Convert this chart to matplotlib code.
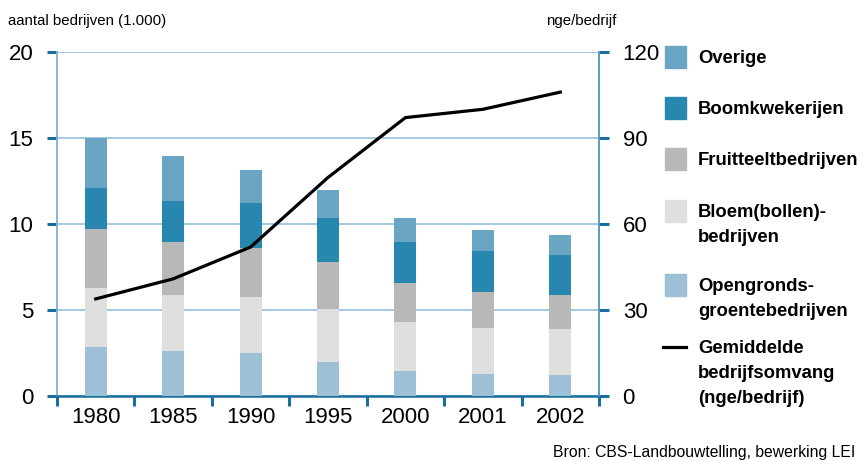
import numpy as np
import matplotlib
matplotlib.use("Agg")
import matplotlib.pyplot as plt
from matplotlib.patches import Rectangle
from matplotlib.lines import Line2D

plt.rcParams['font.family'] = ['Liberation Sans', 'DejaVu Sans']

# data (aantal bedrijven x 1.000)
years = ['1980', '1985', '1990', '1995', '2000', '2001', '2002']
opengronds = [2.87, 2.63, 2.52, 2.00, 1.47, 1.30, 1.24]
bloembollen = [3.43, 3.26, 3.25, 3.08, 2.85, 2.67, 2.67]
fruitteelt = [3.43, 3.08, 2.87, 2.73, 2.27, 2.09, 1.98]
boomkwekerij = [2.38, 2.38, 2.60, 2.56, 2.38, 2.39, 2.33]
overige = [2.89, 2.62, 1.92, 1.62, 1.40, 1.22, 1.16]
# gemiddelde bedrijfsomvang (nge/bedrijf)
omvang = [33.9, 40.9, 52.0, 76.3, 97.2, 100.1, 106.1]

series = [opengronds, bloembollen, fruitteelt, boomkwekerij, overige]
colors = ['#9ec0d6', '#dfdfdf', '#b8b8b8', '#2787ae', '#6aa6c4']
legend_items = [
    ('Overige', '#6aa6c4'),
    ('Boomkwekerijen', '#2787ae'),
    ('Fruitteeltbedrijven', '#b8b8b8'),
    ('Bloem(bollen)-\nbedrijven', '#dfdfdf'),
    ('Opengronds-\ngroentebedrijven', '#9ec0d6'),
]

dark = '#1a6e9c'
light = '#7ab3d3'
grid_c = '#93c0db'

W, H = 865, 461
fig = plt.figure(figsize=(W / 100, H / 100), dpi=100)
ax = fig.add_axes([57 / W, 1 - 396 / H, (599 - 57) / W, (396 - 52.3) / H])

x = np.arange(len(years))
bottom = np.zeros(len(years))
for vals, c in zip(series, colors):
    ax.bar(x, vals, bottom=bottom, width=0.285, color=c, zorder=3, linewidth=0)
    bottom += np.array(vals)

ax.set_xlim(-0.5, len(years) - 0.5)
ax.set_ylim(0, 20)
ax.set_yticks([0, 5, 10, 15, 20])
ax.yaxis.grid(True, color=grid_c, linewidth=1.2, zorder=0)
ax.set_axisbelow(True)

ax.set_xticks(x)
ax.set_xticklabels(years)
ax.set_xticks(np.arange(-0.5, len(years), 1.0), minor=True)
ax.tick_params(axis='x', which='major', length=0, pad=8, labelsize=16)
ax.tick_params(axis='x', which='minor', length=7, width=2.2, color=dark, direction='out')
ax.tick_params(axis='y', length=7, width=2.2, color=dark, pad=10, labelsize=16)

for side in ['top', 'right']:
    ax.spines[side].set_visible(False)
ax.spines['left'].set_color(light)
ax.spines['left'].set_linewidth(1.3)
ax.spines['bottom'].set_color(dark)
ax.spines['bottom'].set_linewidth(1.8)

ax2 = ax.twinx()
ax2.plot(x, omvang, color='black', linewidth=2.3, zorder=5)
ax2.set_ylim(0, 120)
ax2.set_yticks([0, 30, 60, 90, 120])
ax2.tick_params(axis='y', length=7, width=2.2, color=dark, pad=10, labelsize=16)
for side in ['top', 'left', 'bottom']:
    ax2.spines[side].set_visible(False)
ax2.spines['right'].set_color('#4a93bd')
ax2.spines['right'].set_linewidth(1.3)

fig.text(8 / W, 1 - 25 / H, 'aantal bedrijven (1.000)', fontsize=10.8, ha='left', va='baseline')
fig.text(616 / W, 1 - 25 / H, 'nge/bedrijf', fontsize=10.8, ha='right', va='baseline')
fig.text(553 / W, 1 - 457 / H, 'Bron: CBS-Landbouwtelling, bewerking LEI', fontsize=11.3,
         ha='left', va='baseline')

# legend drawn by hand
patch_y = [57, 108, 159, 211, 285]
for (label, c), py in zip(legend_items, patch_y):
    fig.add_artist(Rectangle((665 / W, 1 - (py + 11) / H), 21 / W, 22 / H,
                             color=c, transform=fig.transFigure))
    fig.text(698 / W, 1 - (py - 7) / H, label, fontsize=13.3, fontweight='bold',
             ha='left', va='top', linespacing=1.6)

fig.add_artist(Line2D([663 / W, 686 / W], [1 - 347 / H, 1 - 347 / H], color='black',
                      linewidth=2.3, transform=fig.transFigure))
fig.text(698 / W, 1 - 340 / H, 'Gemiddelde\nbedrijfsomvang\n(nge/bedrijf)', fontsize=13.3,
         fontweight='bold', ha='left', va='top', linespacing=1.6)

fig.savefig('out.png', dpi=100)
